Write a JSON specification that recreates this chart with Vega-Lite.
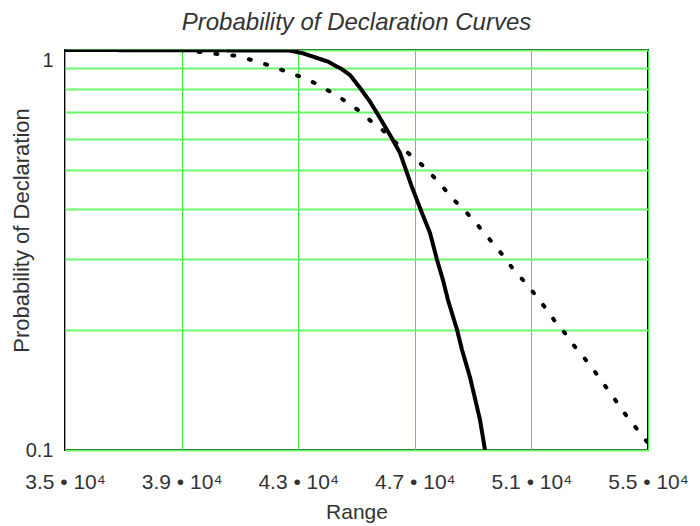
{
  "$schema": "https://vega.github.io/schema/vega-lite/v6.json",
  "autosize": "none",
  "width": 583,
  "height": 400,
  "padding": {"left": 65, "top": 50, "right": 52, "bottom": 76},
  "background": "white",
  "config": {
    "view": {"stroke": "#000000", "strokeWidth": 2},
    "font": "Liberation Sans"
  },
  "title": {
    "text": "Probability of Declaration Curves",
    "fontStyle": "italic",
    "fontWeight": "normal",
    "fontSize": 24,
    "color": "#333333",
    "font": "Liberation Sans",
    "anchor": "middle",
    "offset": 15
  },
  "data": {
    "values": [
      {"series": "solid", "range": 35000, "p": 1.0},
      {"series": "solid", "range": 42700, "p": 0.997},
      {"series": "solid", "range": 43165, "p": 0.981},
      {"series": "solid", "range": 44022, "p": 0.935},
      {"series": "solid", "range": 44500, "p": 0.895},
      {"series": "solid", "range": 44777, "p": 0.866},
      {"series": "solid", "range": 45120, "p": 0.804},
      {"series": "solid", "range": 45463, "p": 0.743},
      {"series": "solid", "range": 45806, "p": 0.676},
      {"series": "solid", "range": 46149, "p": 0.613},
      {"series": "solid", "range": 46492, "p": 0.553},
      {"series": "solid", "range": 46904, "p": 0.454},
      {"series": "solid", "range": 47247, "p": 0.391},
      {"series": "solid", "range": 47521, "p": 0.349},
      {"series": "solid", "range": 47761, "p": 0.299},
      {"series": "solid", "range": 47967, "p": 0.266},
      {"series": "solid", "range": 48139, "p": 0.237},
      {"series": "solid", "range": 48448, "p": 0.2},
      {"series": "solid", "range": 48619, "p": 0.178},
      {"series": "solid", "range": 48894, "p": 0.152},
      {"series": "solid", "range": 49237, "p": 0.119},
      {"series": "solid", "range": 49408, "p": 0.1},
      {"series": "dotted", "range": 39000, "p": 1.0},
      {"series": "dotted", "range": 39631, "p": 0.989},
      {"series": "dotted", "range": 40249, "p": 0.977},
      {"series": "dotted", "range": 40832, "p": 0.968},
      {"series": "dotted", "range": 41415, "p": 0.944},
      {"series": "dotted", "range": 41964, "p": 0.917},
      {"series": "dotted", "range": 42547, "p": 0.886},
      {"series": "dotted", "range": 43062, "p": 0.858},
      {"series": "dotted", "range": 43645, "p": 0.822},
      {"series": "dotted", "range": 44159, "p": 0.782},
      {"series": "dotted", "range": 44605, "p": 0.746},
      {"series": "dotted", "range": 45051, "p": 0.708},
      {"series": "dotted", "range": 45531, "p": 0.661},
      {"series": "dotted", "range": 45978, "p": 0.624},
      {"series": "dotted", "range": 46321, "p": 0.589},
      {"series": "dotted", "range": 46767, "p": 0.553},
      {"series": "dotted", "range": 47178, "p": 0.522},
      {"series": "dotted", "range": 47590, "p": 0.487},
      {"series": "dotted", "range": 47967, "p": 0.454},
      {"series": "dotted", "range": 48310, "p": 0.424},
      {"series": "dotted", "range": 48722, "p": 0.396},
      {"series": "dotted", "range": 49065, "p": 0.372},
      {"series": "dotted", "range": 49408, "p": 0.347},
      {"series": "dotted", "range": 49786, "p": 0.322},
      {"series": "dotted", "range": 50129, "p": 0.3},
      {"series": "dotted", "range": 50437, "p": 0.279},
      {"series": "dotted", "range": 50849, "p": 0.26},
      {"series": "dotted", "range": 51192, "p": 0.241},
      {"series": "dotted", "range": 51535, "p": 0.224},
      {"series": "dotted", "range": 51844, "p": 0.208},
      {"series": "dotted", "range": 52153, "p": 0.196},
      {"series": "dotted", "range": 52496, "p": 0.181},
      {"series": "dotted", "range": 52839, "p": 0.169},
      {"series": "dotted", "range": 53147, "p": 0.158},
      {"series": "dotted", "range": 53490, "p": 0.146},
      {"series": "dotted", "range": 53799, "p": 0.136},
      {"series": "dotted", "range": 54108, "p": 0.126},
      {"series": "dotted", "range": 54485, "p": 0.116},
      {"series": "dotted", "range": 54794, "p": 0.109},
      {"series": "dotted", "range": 55000, "p": 0.104}
    ]
  },
  "mark": {"type": "line", "color": "#000000", "strokeWidth": 4, "strokeCap": "round", "strokeJoin": "round", "clip": true},
  "encoding": {
    "x": {
      "field": "range",
      "type": "quantitative",
      "scale": {"domain": [35000, 55000], "nice": false, "zero": false},
      "axis": {
        "values": [35000, 39000, 43000, 47000, 51000, 55000],
        "labelExpr": "format(datum.value/10000, '.1f') + ' • 10⁴'",
        "labelFontSize": 21,
        "labelColor": "#333333",
        "labelFont": "Liberation Sans",
        "labelFlush": false,
        "labelOverlap": false,
        "labelPadding": 21,
        "ticks": false,
        "domain": false,
        "grid": true,
        "gridColor": "#33ee33",
        "gridWidth": 1,
        "gridOpacity": 1,
        "title": "Range",
        "titleFontSize": 21,
        "titleFontWeight": "normal",
        "titleColor": "#333333",
        "titleFont": "Liberation Sans",
        "titlePadding": 9
      }
    },
    "y": {
      "field": "p",
      "type": "quantitative",
      "scale": {"type": "log", "domain": [0.1, 1], "nice": false},
      "axis": {
        "values": [0.1, 0.2, 0.3, 0.4, 0.5, 0.6, 0.7, 0.8, 0.9, 1],
        "labelExpr": "datum.value == 1 ? '1' : (datum.value == 0.1 ? '0.1' : '')",
        "labelBaseline": {"condition": {"test": "datum.value == 1", "value": "top"}, "value": "middle"},
        "labelFontSize": 20,
        "labelColor": "#333333",
        "labelFont": "Liberation Sans",
        "labelOverlap": false,
        "labelFlush": false,
        "labelPadding": 12,
        "ticks": false,
        "domain": false,
        "grid": true,
        "gridColor": "#6cf86c",
        "gridWidth": 2,
        "gridOpacity": 1,
        "title": "Probability of Declaration",
        "titleFontSize": 22,
        "titleFontWeight": "normal",
        "titleColor": "#333333",
        "titleFont": "Liberation Sans",
        "titleAngle": 270,
        "titleAlign": "center",
        "titleBaseline": "alphabetic",
        "titleX": -37,
        "titleY": 180
      }
    },
    "strokeDash": {
      "field": "series",
      "type": "nominal",
      "scale": {"domain": ["solid", "dotted"], "range": [[1, 0], [2, 15]]},
      "legend": null
    }
  }
}
